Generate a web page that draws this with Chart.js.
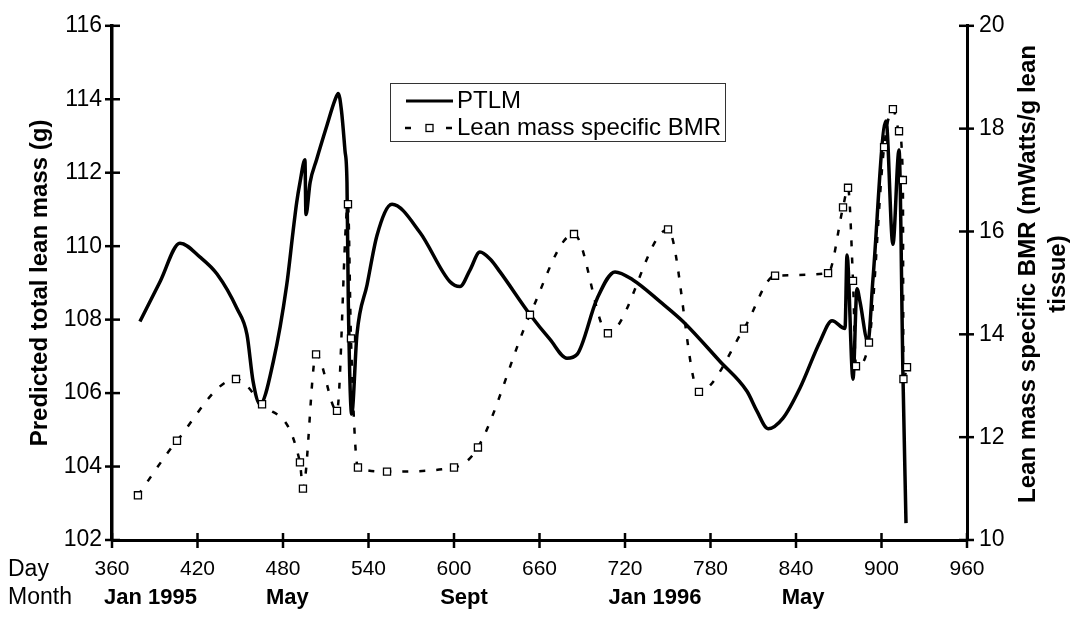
<!DOCTYPE html>
<html>
<head>
<meta charset="utf-8">
<script src="https://cdn.jsdelivr.net/npm/chart.js"></script>
<style>
  html, body { margin: 0; padding: 0; background: #fff; }
</style>
</head>
<body>
<canvas id="chart" width="1071" height="617"></canvas>
<script>
// PTLM (left axis, g)
const ptlmDays = [379.6, 393.7, 407.7, 421.8, 433.7, 447.7, 454.7, 459.0, 463.9, 473.2, 482.6, 487.0,
  489.6, 491.9, 495.4, 496.1, 499.0, 503.6, 510.7, 516.5, 518.8, 521.0, 523.5, 524.9, 525.8, 528.2, 531.9,
  539.0, 546.0, 556.5, 576.0, 597.2, 604.2, 611.2, 618.2, 625.3, 632.3, 653.3, 667.4, 679.3, 686.3, 700.4,
  713.0, 725.6, 744.6, 760.7, 786.7, 805.6, 812.6, 820.4, 830.9, 842.8, 856.8, 865.3, 874.4, 875.8, 880.0,
  882.8, 884.9, 890.5, 894.0, 903.2, 908.0, 912.3, 915.1, 917.2];
const ptlmMass = [107.95, 109.03, 110.08, 109.7, 109.24, 108.3, 107.6, 106.32, 105.7, 106.86, 108.94, 110.38,
  111.19, 111.73, 112.35, 110.86, 111.73, 112.36, 113.27, 113.98, 114.16, 113.7, 112.6, 111.73, 108.57, 105.43, 107.6,
  108.95, 110.3, 111.14, 110.38, 109.03, 108.9, 109.35, 109.84, 109.65, 109.3, 108.14, 107.46, 106.95, 107.05, 108.57,
  109.3, 109.08, 108.49, 107.95, 106.86, 106.05, 105.51, 105.03, 105.32, 106.14, 107.4, 107.97, 107.76, 109.76, 106.38,
  108.84, 108.49, 107.4, 109.1, 113.41, 110.05, 112.62, 106.4, 102.46];

// Lean mass specific BMR (right axis, mWatts/g lean tissue)
const bmrDays = [378.2, 405.6, 447.0, 465.3, 491.9, 494.0, 503.2, 517.9, 525.6, 527.7, 532.6, 553.0, 600.0,
  616.8, 653.3, 684.2, 708.0, 750.2, 771.9, 803.5, 825.3, 862.5, 873.0, 876.5, 880.0, 882.1, 891.2, 901.8,
  908.0, 912.3, 915.0, 915.4, 917.9];
const bmrValues = [10.87, 11.93, 13.13, 12.64, 11.51, 11.0, 13.61, 12.51, 16.53, 13.92, 11.41, 11.33, 11.41,
  11.8, 14.38, 15.95, 14.02, 16.04, 12.88, 14.11, 15.14, 15.19, 16.47, 16.85, 15.04, 13.38, 13.84, 17.64,
  18.38, 17.95, 17.0, 13.13, 13.36];

const monthLabels = ['Jan 1995', 'May', 'Sept', 'Jan 1996', 'May'];
const monthDays = [387, 483, 607, 741, 845];

const FONT = '"Liberation Sans", Arial, sans-serif';

const decor = {
  id: 'decor',
  afterDraw(chart) {
    const ctx = chart.ctx;
    const a = chart.chartArea;
    const sx = chart.scales.x, sy = chart.scales.y, sy1 = chart.scales.y1;
    ctx.save();
    ctx.strokeStyle = '#000';
    ctx.lineWidth = 2.5;
    // tick marks crossing the axes
    sy.ticks.forEach(t => {
      const p = sy.getPixelForValue(t.value);
      ctx.beginPath(); ctx.moveTo(a.left - 7, p); ctx.lineTo(a.left + 8, p); ctx.stroke();
    });
    sy1.ticks.forEach(t => {
      const p = sy1.getPixelForValue(t.value);
      ctx.beginPath(); ctx.moveTo(a.right - 8, p); ctx.lineTo(a.right + 7, p); ctx.stroke();
    });
    sx.ticks.forEach(t => {
      const p = sx.getPixelForValue(t.value);
      ctx.beginPath(); ctx.moveTo(p, a.bottom - 7); ctx.lineTo(p, a.bottom + 8); ctx.stroke();
    });

    // row labels and months
    ctx.fillStyle = '#000';
    ctx.textBaseline = 'middle';
    ctx.textAlign = 'left';
    ctx.font = '23px ' + FONT;
    ctx.fillText('Day', 8, 570);
    ctx.fillText('Month', 8, 598);
    ctx.textAlign = 'center';
    ctx.font = 'bold 22px ' + FONT;
    monthLabels.forEach((m, i) => ctx.fillText(m, sx.getPixelForValue(monthDays[i]), 598));

    // right axis title, reading bottom to top
    ctx.save();
    ctx.translate(1028, 274);
    ctx.rotate(-Math.PI / 2);
    ctx.font = 'bold 24px ' + FONT;
    ctx.fillText('Lean mass specific BMR (mWatts/g lean', 0, 0);
    ctx.fillText('tissue)', 0, 30);
    ctx.restore();

    // legend
    const ds = chart.data.datasets;
    const ptlm = ds.find(d => d.label === 'PTLM');
    const bmr = ds.find(d => d.label !== 'PTLM');
    ctx.lineWidth = 1;
    ctx.strokeStyle = '#333';
    ctx.fillStyle = '#fff';
    ctx.fillRect(390, 83, 335, 58);
    ctx.strokeRect(390.5, 83.5, 335, 58);
    ctx.strokeStyle = '#000';
    ctx.lineWidth = 3;
    ctx.beginPath(); ctx.moveTo(406, 101); ctx.lineTo(453, 101); ctx.stroke();
    ctx.lineWidth = 2.5;
    ctx.beginPath(); ctx.moveTo(405, 128); ctx.lineTo(411, 128); ctx.stroke();
    ctx.beginPath(); ctx.moveTo(446, 128); ctx.lineTo(452, 128); ctx.stroke();
    ctx.lineWidth = 1.3;
    ctx.fillStyle = '#fff';
    ctx.fillRect(426, 124.5, 7, 7);
    ctx.strokeRect(426, 124.5, 7, 7);
    ctx.fillStyle = '#000';
    ctx.textAlign = 'left';
    ctx.font = '24px ' + FONT;
    ctx.fillText(ptlm.label, 457, 101);
    ctx.fillText(bmr.label, 457, 128);
    ctx.restore();
  }
};

new Chart(document.getElementById('chart'), {
  type: 'line',
  data: {
    datasets: [
      {
        label: 'PTLM',
        data: ptlmDays.map((d, i) => ({ x: d, y: ptlmMass[i] })),
        yAxisID: 'y',
        borderColor: '#000',
        borderWidth: 3.5,
        pointRadius: 0,
        cubicInterpolationMode: 'monotone',
        order: 1
      },
      {
        label: 'Lean mass specific BMR',
        data: bmrDays.map((d, i) => ({ x: d, y: bmrValues[i] })),
        yAxisID: 'y1',
        borderColor: '#000',
        borderWidth: 2.5,
        borderDash: [6, 11],
        pointStyle: 'rect',
        pointRadius: 5,
        pointBackgroundColor: '#fff',
        pointBorderColor: '#000',
        pointBorderWidth: 1.3,
        cubicInterpolationMode: 'monotone',
        order: 0
      }
    ]
  },
  options: {
    responsive: false,
    animation: false,
    layout: { padding: { top: 22, left: 0, right: 0, bottom: 0 } },
    plugins: {
      legend: { display: false },
      tooltip: { enabled: false }
    },
    scales: {
      x: {
        type: 'linear',
        min: 360,
        max: 960,
        grid: { display: false, drawTicks: false },
        border: { display: true, color: '#000', width: 3 },
        ticks: {
          stepSize: 60,
          autoSkip: false,
          maxRotation: 0,
          padding: 17,
          color: '#000',
          font: { family: FONT, size: 21 }
        },
        afterFit(s) { s.height = 77; }
      },
      y: {
        position: 'left',
        min: 102,
        max: 116,
        grid: { display: false, drawTicks: false },
        border: { display: true, color: '#000', width: 3.5 },
        ticks: {
          stepSize: 2,
          padding: 10,
          color: '#000',
          font: { family: FONT, size: 23 }
        },
        title: {
          display: true,
          text: 'Predicted total lean mass (g)',
          color: '#000',
          font: { family: FONT, size: 24, weight: 'bold' },
          padding: { top: 26, bottom: 0 }
        },
        afterFit(s) { s.width = 112; }
      },
      y1: {
        position: 'right',
        min: 10,
        max: 20,
        grid: { display: false, drawTicks: false },
        border: { display: true, color: '#000', width: 3 },
        ticks: {
          stepSize: 2,
          padding: 12,
          color: '#000',
          font: { family: FONT, size: 23 }
        },
        afterFit(s) { s.width = 104; }
      }
    }
  },
  plugins: [decor]
});
</script>
</body>
</html>
